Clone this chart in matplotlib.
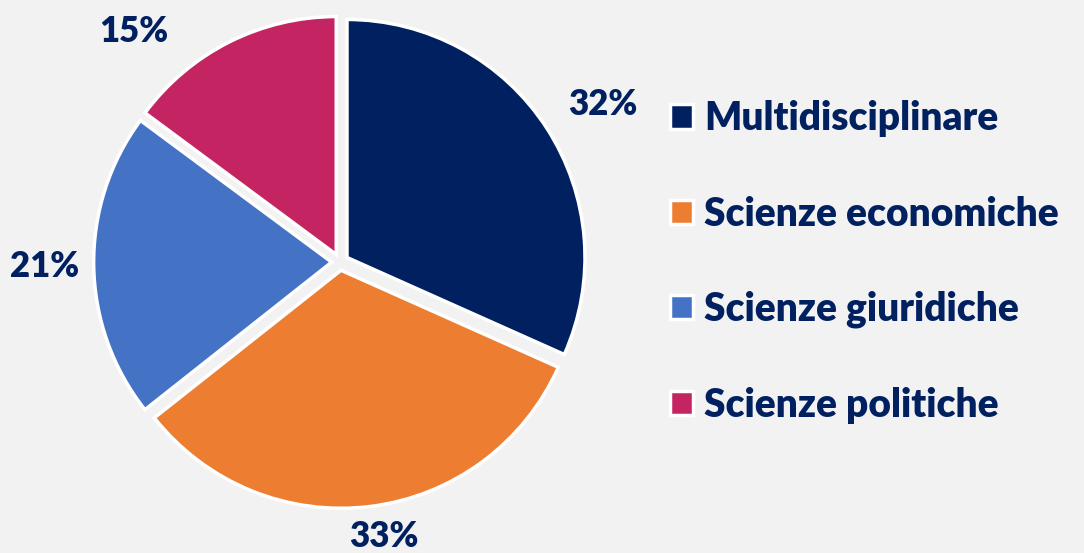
import numpy as np
import matplotlib
matplotlib.use("Agg")
import matplotlib.pyplot as plt

categories = ["Multidisciplinare", "Scienze economiche", "Scienze giuridiche", "Scienze politiche"]
values = [32, 33, 21, 15]
labels = ["32%", "33%", "21%", "15%"]
colors = ["#002060", "#ED7D31", "#4472C4", "#C42462"]

BG = "#F2F2F2"
TXT = "#002060"
plt.rcParams['font.family'] = ['Lato', 'DejaVu Sans']

W, H = 1084, 553
fig = plt.figure(figsize=(W / 100, H / 100), dpi=100, facecolor=BG)

# pie axes: centre (340, 262) px from top-left, radius 238 px
cx, cy, R = 340, 262, 238
half = 260
ax = fig.add_axes([(cx - half) / W, (H - cy - half) / H, 2 * half / W, 2 * half / H])
ax.set_facecolor(BG)

wedges, _ = ax.pie(values, colors=colors, startangle=90, counterclock=False,
                   explode=[0.035] * len(values), radius=1.0,
                   wedgeprops=dict(edgecolor='white', linewidth=2.5))
ax.set_xlim(-half / R, half / R)
ax.set_ylim(-half / R, half / R)
ax.set_aspect('equal')
ax.axis('off')

# label placement (radial distance, angular tweak in degrees)
dists = [1.29, 1.17, 1.24, 1.30]
tweaks = [-2, 2, 0, 15]
for w, lab, d, t in zip(wedges, labels, dists, tweaks):
    th = np.deg2rad((w.theta1 + w.theta2) / 2 + t)
    ax.text(d * np.cos(th), d * np.sin(th), lab, ha='center', va='center',
            fontsize=25, fontweight='heavy', color=TXT)

leg = fig.legend(wedges, categories, loc='center left',
                 bbox_to_anchor=(670 / W, 1 - 262 / H), frameon=False,
                 fontsize=28, handlelength=0.58, handleheight=0.58,
                 handletextpad=0.3, labelspacing=1.5, borderpad=0,
                 borderaxespad=0)
for t in leg.get_texts():
    t.set_color(TXT)
    t.set_fontweight('heavy')

fig.savefig("out.png", dpi=100, facecolor=BG)
